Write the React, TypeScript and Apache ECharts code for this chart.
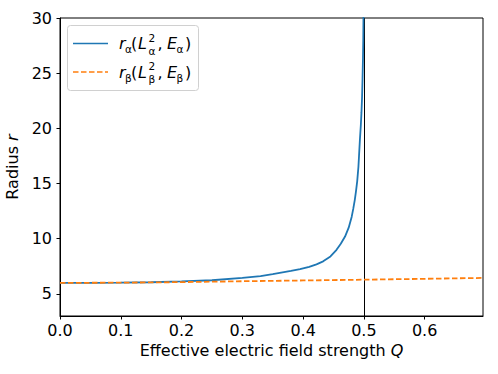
import React, { useEffect, useRef } from "react";
import * as echarts from "echarts";

const qAlpha = [0, 0.05, 0.1, 0.15, 0.2, 0.25, 0.3, 0.33, 0.35, 0.38, 0.395, 0.41, 0.422, 0.433, 0.445, 0.455, 0.462, 0.469, 0.475, 0.48, 0.4825, 0.485, 0.487, 0.489, 0.491, 0.492, 0.4935, 0.495, 0.496, 0.497, 0.4978, 0.4985, 0.499, 0.4995];
const rAlpha = [6.0, 6.0, 6.02, 6.06, 6.13, 6.24, 6.45, 6.62, 6.8, 7.08, 7.25, 7.45, 7.68, 7.95, 8.4, 9.0, 9.55, 10.2, 11.0, 12.0, 12.7, 13.5, 14.3, 15.2, 16.5, 17.5, 19.0, 20.3, 21.4, 22.8, 24.5, 26.3, 28.0, 31.0];

const qBeta = [0, 0.1, 0.2, 0.3, 0.4, 0.5, 0.6, 0.696];
const rBeta = [6.0, 6.02, 6.07, 6.15, 6.22, 6.29, 6.37, 6.45];

const xTicks = [0, 0.1, 0.2, 0.3, 0.4, 0.5, 0.6];
const yTicks = [5, 10, 15, 20, 25, 30];
const xMin = 0;
const xMax = 0.696;
const yMin = 3;
const yMax = 30;
const vLineQ = 0.5;

const BLUE = "#1f77b4";
const ORANGE = "#ff7f0e";
const FONT = "DejaVu Sans";
const FS = 16;
const FS_SMALL = 10.5;

function legendRow(y: number, sub: string, color: string, dashed: boolean) {
  const main = (text: string, x: number, italic = false) => ({
    type: "text",
    x,
    y,
    style: { text, fontFamily: FONT, fontSize: FS, fontStyle: italic ? "italic" : "normal", fill: "#000", verticalAlign: "middle", align: "left" },
  });
  const small = (text: string, x: number, dy: number) => ({
    type: "text",
    x,
    y: y + dy,
    style: { text, fontFamily: FONT, fontSize: FS_SMALL, lineHeight: 10, fill: "#000", verticalAlign: "middle", align: "left" },
  });
  return [
    {
      type: "line",
      shape: { x1: 73, y1: y, x2: 108, y2: y },
      style: { stroke: color, lineWidth: 1.7, lineDash: dashed ? [5.5, 2.5] : null },
    },
    main("r", 119, true),
    small(sub, 125, 5.5),
    main("(", 131),
    main("L", 138, true),
    small("2", 148.5, -6),
    small(sub, 148.5, 7),
    main(",", 157.5),
    main("E", 167, true),
    small(sub, 176.5, 5.5),
    main(")", 185),
  ];
}

export default function App() {
  const ref = useRef<HTMLDivElement>(null);
  useEffect(() => {
    if (!ref.current) return;
    const chart = echarts.init(ref.current, null, { renderer: "svg" });
    const axisCommon = {
      axisLine: { show: true, onZero: false, lineStyle: { color: "#000", width: 1 } },
      axisTick: { show: true, inside: false, length: 3.5, lineStyle: { color: "#000", width: 1 } },
      splitLine: { show: false },
    };
    chart.setOption({
      animation: false,
      backgroundColor: "#fff",
      grid: { left: 60, right: 15, top: 18, bottom: 58, show: true, borderColor: "#000", borderWidth: 1, containLabel: false, outerBoundsMode: "none" },
      xAxis: {
        type: "value",
        min: xMin,
        max: xMax,
        ...axisCommon,
        axisTick: { ...axisCommon.axisTick, customValues: xTicks },
        axisLabel: {
          customValues: xTicks,
          formatter: (v: number) => v.toFixed(1),
          fontFamily: FONT,
          fontSize: FS,
          color: "#000",
          margin: 6,
        },
        name: "Effective electric field strength {i|Q}",
        nameLocation: "middle",
        nameGap: 23,
        nameTextStyle: {
          fontFamily: FONT,
          fontSize: FS,
          color: "#000",
          verticalAlign: "top",
          rich: { i: { fontFamily: FONT, fontSize: FS, fontStyle: "italic", color: "#000" } },
        },
      },
      yAxis: {
        type: "value",
        min: yMin,
        max: yMax,
        ...axisCommon,
        axisTick: { ...axisCommon.axisTick, customValues: yTicks },
        axisLabel: {
          customValues: yTicks,
          fontFamily: FONT,
          fontSize: FS,
          color: "#000",
          margin: 8,
        },
        name: "Radius {i|r}",
        nameLocation: "middle",
        nameRotate: 90,
        nameGap: 32,
        nameTextStyle: {
          fontFamily: FONT,
          fontSize: FS,
          color: "#000",
          rich: { i: { fontFamily: FONT, fontSize: FS, fontStyle: "italic", color: "#000" } },
        },
      },
      series: [
        {
          type: "line",
          data: qAlpha.map((q, i) => [q, rAlpha[i]]),
          showSymbol: false,
          clip: true,
          lineStyle: { color: BLUE, width: 1.8 },
          z: 3,
          markLine: {
            silent: true,
            symbol: "none",
            label: { show: false },
            lineStyle: { color: "#000", width: 1, type: "solid" },
            data: [{ xAxis: vLineQ }],
            z: 2,
          },
        },
        {
          type: "line",
          data: qBeta.map((q, i) => [q, rBeta[i]]),
          showSymbol: false,
          clip: true,
          lineStyle: { color: ORANGE, width: 1.8, type: [5.5, 2.5] },
          z: 4,
        },
      ],
      graphic: [
        {
          type: "rect",
          shape: { x: 67.5, y: 25.5, width: 131, height: 65, r: 3 },
          style: { fill: "rgba(255,255,255,0.8)", stroke: "#d0d0d0", lineWidth: 1 },
          z: 100,
        },
        ...legendRow(43.5, "α", BLUE, false).map((e) => ({ ...e, z: 101 })),
        ...legendRow(72, "β", ORANGE, true).map((e) => ({ ...e, z: 101 })),
      ],
    });
    return () => chart.dispose();
  }, []);
  return <div ref={ref} style={{ width: 498, height: 374, position: "absolute", left: 0, top: 0 }} />;
}
